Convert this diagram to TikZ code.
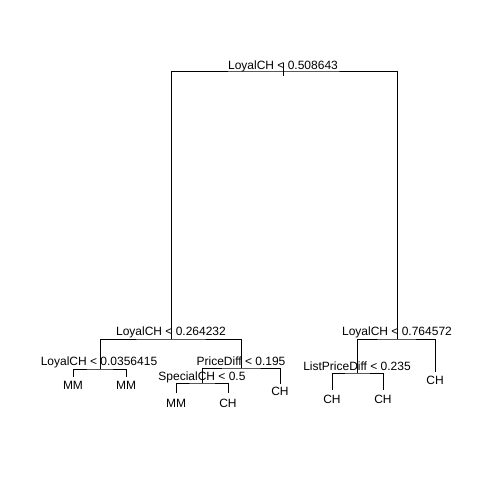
\documentclass[tikz,border=0pt]{standalone}
\usepackage{fontspec}
\setmainfont{Liberation Sans}
\begin{document}
\begin{tikzpicture}[x=1pt,y=-1pt,
  edge/.style={draw=black,line width=0.9pt},
  lab/.style={font=\fontsize{12}{12}\selectfont,inner sep=0pt,anchor=base},
]
\useasboundingbox[fill=white] (0,0) rectangle (480,480);
% split points
\coordinate (r) at (283,71);
\coordinate (rt) at (283,63);
\coordinate (rb) at (283,76);
\coordinate (L) at (171,339);
\coordinate (R) at (397,339);
\coordinate (LL) at (100,369);
\coordinate (LR) at (241,368);
\coordinate (LRL) at (202,383);
\coordinate (RL) at (357,373);
% leaf ends
\coordinate (l1) at (73,377);
\coordinate (l2) at (126,377);
\coordinate (l3) at (176,393);
\coordinate (l4) at (228,393);
\coordinate (l5) at (280,384);
\coordinate (l6) at (332,390);
\coordinate (l7) at (383,390);
\coordinate (l8) at (435,372);
% edges
\draw[edge] (rt) -- (rb);
\draw[edge] (L) |- (r) -| (R);
\draw[edge] (LL) |- (L) -| (LR);
\draw[edge] (l1) |- (LL) -| (l2);
\draw[edge] (LRL) |- (LR) -| (l5);
\draw[edge] (l3) |- (LRL) -| (l4);
\draw[edge] (RL) |- (R) -| (l8);
\draw[edge] (l6) |- (RL) -| (l7);
% split labels
\node[lab] (t0) at (283,69) {LoyalCH < 0.508643};
\node[lab] (t1) at (171,335) {LoyalCH < 0.264232};
\node[lab] (t2) at (397,335) {LoyalCH < 0.764572};
\node[lab] (t3) at (99,365) {LoyalCH < 0.0356415};
\node[lab] (t4) at (241,365) {PriceDiff < 0.195};
\node[lab] (t5) at (202,380) {SpecialCH < 0.5};
\node[lab] (t6) at (357,370) {ListPriceDiff < 0.235};
% leaf labels
\node[lab] (m1) at (73,389) {MM};
\node[lab] (m2) at (126,389) {MM};
\node[lab] (m3) at (176,407) {MM};
\node[lab] (c4) at (228,407) {CH};
\node[lab] (c5) at (280,395) {CH};
\node[lab] (c6) at (332,403) {CH};
\node[lab] (c7) at (383,403) {CH};
\node[lab] (c8) at (435,384) {CH};
\end{tikzpicture}
\end{document}
